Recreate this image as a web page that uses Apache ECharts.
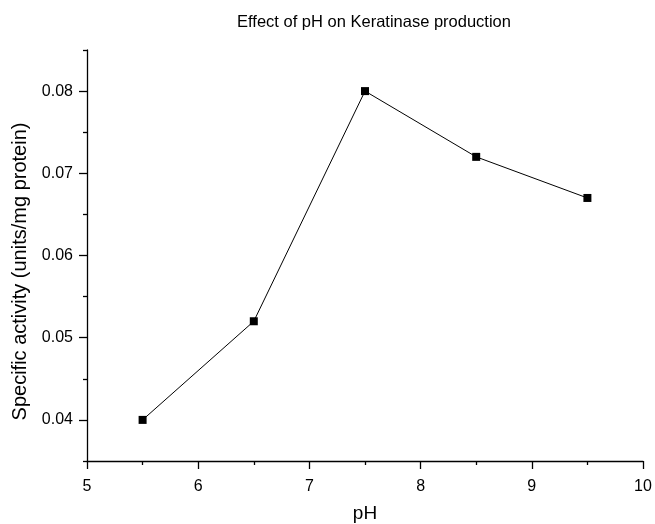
<!DOCTYPE html>
<html>
<head>
<meta charset="utf-8">
<script src="https://cdn.jsdelivr.net/npm/echarts@6/dist/echarts.min.js"></script>
<style>html,body{margin:0;padding:0;background:#fff}#c{width:655px;height:524px}</style>
</head>
<body>
<div id="c"></div>
<script>
var phValues = [5.5, 6.5, 7.5, 8.5, 9.5];
var activity = [0.040, 0.052, 0.080, 0.072, 0.067];
var yMajorTicks = [0.04, 0.05, 0.06, 0.07, 0.08];
var yMinorTicks = [0.035, 0.045, 0.055, 0.065, 0.075, 0.085];
var titleText = 'Effect of pH on Keratinase production';
var xName = 'pH';
var yName = 'Specific activity (units/mg protein)';

var font = 'Liberation Sans, Arial, sans-serif';
var chart = echarts.init(document.getElementById('c'));
var axisLine = {show: true, onZero: false, lineStyle: {color: '#000', width: 1.3}};
chart.setOption({
  animation: false,
  backgroundColor: '#fff',
  title: {
    text: titleText, left: 369, top: 9, textAlign: 'center',
    textStyle: {fontFamily: font, fontSize: 16.5, fontWeight: 'normal', color: '#000'}
  },
  grid: {left: 87, right: 12, top: 50, bottom: 63, containLabel: false, outerBoundsMode: 'none'},
  xAxis: {
    type: 'value', min: 5, max: 10, interval: 1,
    name: xName, nameLocation: 'middle', nameGap: 43,
    nameTextStyle: {fontFamily: font, fontSize: 19, color: '#000'},
    axisLine: axisLine,
    axisTick: {show: true, length: 8, lineStyle: {color: '#000', width: 1.3}},
    minorTick: {show: true, splitNumber: 2, length: 4, lineStyle: {color: '#000', width: 1.3}},
    axisLabel: {fontFamily: font, fontSize: 16, color: '#000', margin: 18},
    splitLine: {show: false}
  },
  yAxis: [{
    type: 'value', min: 0.035, max: 0.085, interval: 0.005,
    name: yName, nameLocation: 'middle', nameGap: 51,
    nameTextStyle: {fontFamily: font, fontSize: 20, color: '#000', padding: [0, 32, 0, 0]},
    axisLine: axisLine,
    axisTick: {show: true, length: 8, customValues: yMajorTicks, lineStyle: {color: '#000', width: 1.3}},
    axisLabel: {fontFamily: font, fontSize: 16, color: '#000', margin: 14, customValues: yMajorTicks,
      formatter: function (v) { return v.toFixed(2); }},
    splitLine: {show: false}
  }, {
    type: 'value', min: 0.035, max: 0.085, interval: 0.005, position: 'left', offset: 0,
    axisLine: {show: false},
    axisTick: {show: true, length: 4, customValues: yMinorTicks, lineStyle: {color: '#000', width: 1.3}},
    axisLabel: {show: false},
    splitLine: {show: false}
  }],
  series: [{
    type: 'line',
    data: phValues.map(function (x, i) { return [x, activity[i]]; }),
    symbol: 'rect', symbolSize: 8,
    itemStyle: {color: '#000'},
    lineStyle: {color: '#000', width: 1}
  }]
});
</script>
</body>
</html>
